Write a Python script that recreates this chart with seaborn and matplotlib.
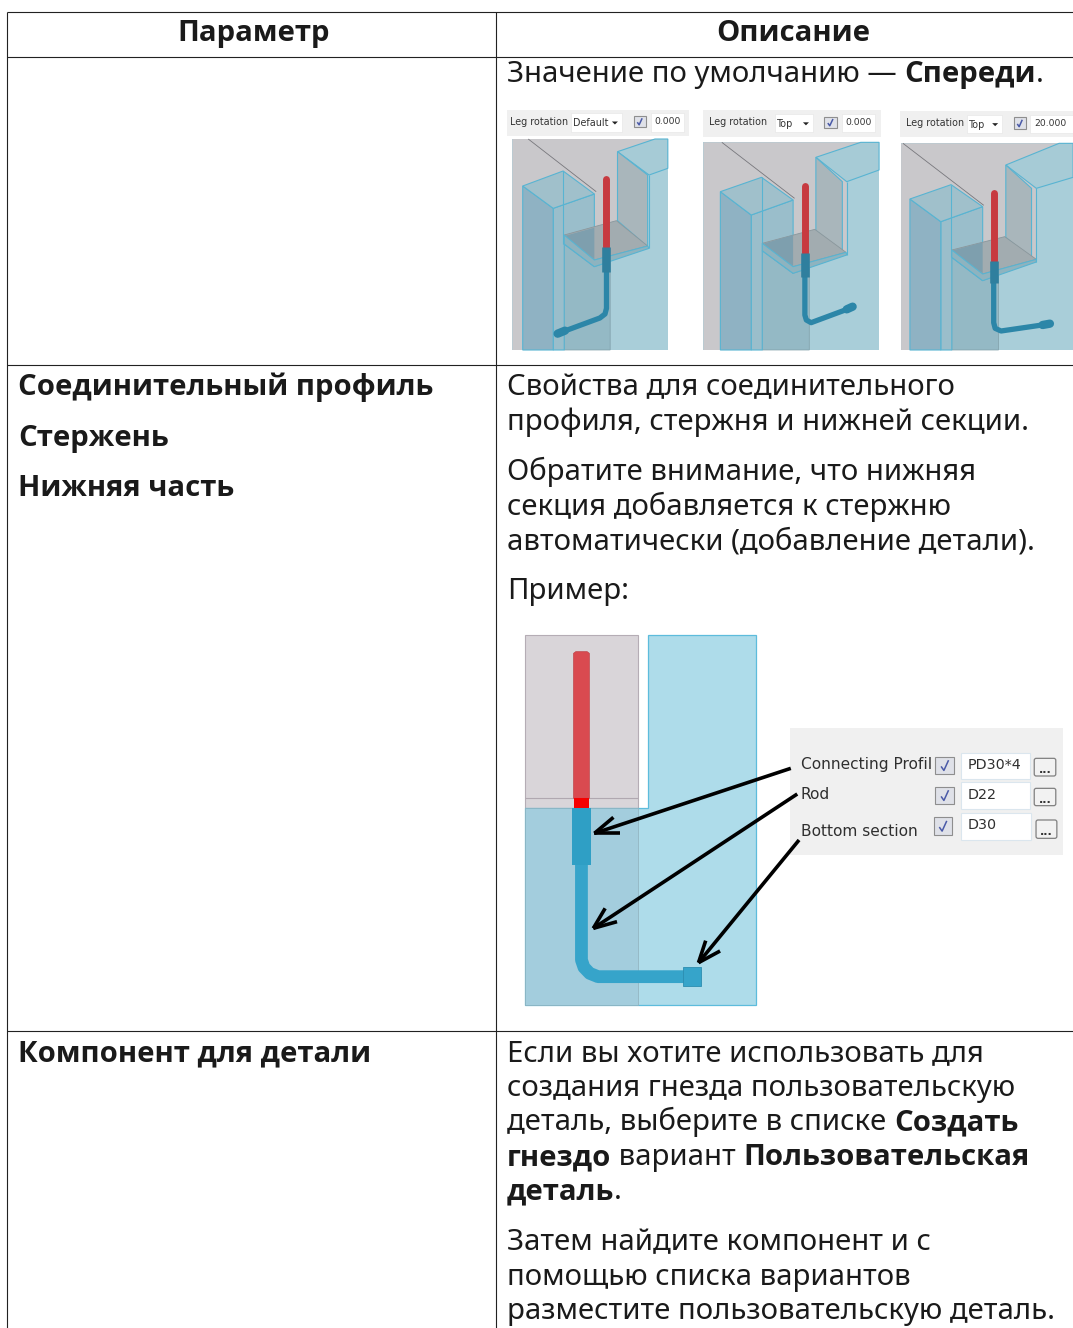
import matplotlib
matplotlib.use("Agg")
import matplotlib.pyplot as plt
from matplotlib.patches import Polygon, Rectangle, FancyBboxPatch
import seaborn as sns

# ---- table content -------------------------------------------------------
header_labels = ["Параметр", "Описание"]
left_labels = ["Соединительный профиль", "Стержень", "Нижняя часть", "Компонент для детали"]
left_baselines = [395, 446, 496, 1061]
right_lines = [
    [("Значение по умолчанию — ", False), ("Спереди", True), (".", False)],
    [("Свойства для соединительного", False)],
    [("профиля, стержня и нижней секции.", False)],
    [("Обратите внимание, что нижняя", False)],
    [("секция добавляется к стержню", False)],
    [("автоматически (добавление детали).", False)],
    [("Пример:", False)],
    [("Если вы хотите использовать для", False)],
    [("создания гнезда пользовательскую", False)],
    [("деталь, выберите в списке ", False), ("Создать", True)],
    [("гнездо", True), (" вариант ", False), ("Пользовательская", True)],
    [("деталь", True), (".", False)],
    [("Затем найдите компонент и с", False)],
    [("помощью списка вариантов", False)],
    [("разместите пользовательскую деталь.", False)],
]
right_baselines = [82, 395, 430, 480, 515, 550, 599, 1061, 1096, 1130, 1165, 1199, 1250, 1285, 1319]

panel_toolbar = ["Default", "Top", "Top"]
panel_values = ["0.000", "0.000", "20.000"]
form_labels = ["Connecting Profil", "Rod", "Bottom section"]
form_values = ["PD30*4", "D22", "D30"]

FS = 21.1
BOLD_FAMILY = "Open Sans"
sns.set_theme(style="white")
plt.rcParams["font.family"] = ["Noto Sans", "DejaVu Sans"]

fig = plt.figure(figsize=(10.73, 13.28), dpi=100, facecolor="white")
ax = fig.add_axes([0, 0, 1, 1])
ax.set_xlim(0, 1073)
ax.set_ylim(1328, 0)
ax.axis("off")
ax.set_autoscale_on(False)
rend = fig.canvas.get_renderer()


def polyline(pts, color, lw, z=3, cap="butt", alpha=1.0):
    xs = [p[0] for p in pts]
    ys = [p[1] for p in pts]
    sns.lineplot(x=xs, y=ys, sort=False, estimator=None, color=color, lw=lw, ax=ax,
                 legend=False, zorder=z, solid_capstyle=cap, solid_joinstyle="round", alpha=alpha)


def style(bold):
    if bold:
        return dict(fontsize=FS, fontweight="bold", family=BOLD_FAMILY)
    return dict(fontsize=FS, fontweight="normal")


def runs(x, base, parts, color="#1a1a1a"):
    for text, bold in parts:
        st = style(bold)
        ax.text(x, base, text, color=color, va="baseline", ha="left", zorder=10, **st)
        a = ax.text(0, 0, text + ".", **st)
        b = ax.text(0, 0, ".", **st)
        x += a.get_window_extent(rend).width - b.get_window_extent(rend).width
        a.remove()
        b.remove()


# ---- table rules ---------------------------------------------------------
for yy in [11.5, 56.5, 364.5, 1030.5]:
    polyline([(7, yy + .5), (1073, yy + .5)], "#222222", 0.8)
for xx in [7, 496]:
    polyline([(xx, 11.5), (xx, 1328)], "#222222", 0.8)

ax.text(254, 41, header_labels[0], ha="center", va="baseline", color="#1a1a1a", **style(True))
ax.text(793, 41, header_labels[1], ha="center", va="baseline", color="#1a1a1a", **style(True))
for s, b in zip(left_labels, left_baselines):
    runs(18.5, b, [(s, True)])
for parts, b in zip(right_lines, right_baselines):
    runs(507, b, parts)


# ---- three rotation panels ----------------------------------------------
def Z1(pts):
    return [(497 + x / 2.722, 100 + y / 3) for x, y in pts]


def poly(pts, fc, ec="none", lw=0.0, z=2, alpha=1.0):
    ax.add_patch(Polygon(pts, closed=True, fc=fc, ec=ec, lw=lw, zorder=z, alpha=alpha))


def checkbox(x0, y0, x1, y1, z=3):
    ax.add_patch(Rectangle((x0, y0), x1 - x0, y1 - y0, fc="#dfe1e8", ec="#8e8e8e", lw=0.8, zorder=z))
    w, h = x1 - x0, y1 - y0
    polyline([(x0 + .3 * w, y0 + .55 * h), (x0 + .45 * w, y0 + .78 * h), (x0 + .7 * w, y0 + .2 * h)], "#4a5aa8", 1.1, z + 1)


def panel(p, label, val):
    EDGE = "#58b4d2"
    T = p["tb"]
    (tx0, ty0), (tx1, ty1) = Z1([T[0], T[1]])
    ax.add_patch(Rectangle((tx0, ty0), tx1 - tx0, ty1 - ty0, fc="#f0f0f0", ec="none", zorder=2))
    (dx0, dy0), (dx1, dy1) = Z1(p["dd"])
    ax.add_patch(Rectangle((dx0, dy0), dx1 - dx0, dy1 - dy0, fc="white", ec="#e8e8e8", lw=0.5, zorder=3))
    (fx0, fy0), (fx1, fy1) = Z1(p["fld"])
    ax.add_patch(Rectangle((fx0, fy0), min(fx1, 1073) - fx0, fy1 - fy0, fc="white", ec="#e8e8e8", lw=0.5, zorder=3))
    (cx0, cy0), (cx1, cy1) = Z1(p["chk"])
    checkbox(cx0, cy0, cx1, cy1)
    (lx, ly), = Z1([p["lbl"]])
    ax.text(lx, ly, "Leg rotation", fontsize=6.9, color="#333333", va="center", family="DejaVu Sans", zorder=4)
    ax.text(dx0 + 2, (dy0 + dy1) / 2 + 1, label, fontsize=6.9, color="#333333", va="center", family="DejaVu Sans", zorder=4)
    poly([(dx1 - 10, (dy0 + dy1) / 2 - 1), (dx1 - 4, (dy0 + dy1) / 2 - 1), (dx1 - 7, (dy0 + dy1) / 2 + 2)], "#222222", z=4)
    ax.text(fx0 + 4, (fy0 + fy1) / 2 - 1, val, fontsize=6.6, color="#333333", va="center", family="DejaVu Sans", zorder=4)

    x0, y0, x1, y1 = p["img"]
    poly(Z1([(x0, y0), (x1, y0), (x1, y1), (x0, y1)]), "#a9ced9")
    poly(Z1(p["gray"]), "#c9c8cb", z=2.1)
    polyline(Z1(p["back"]), "#77777c", 0.6, 2.15)
    poly(Z1(p["rtop"]), "#a6cbd6", EDGE, 0.8, z=2.2)
    poly(Z1(p["rinner"]), "#a9b6bb", EDGE, 0.8, z=2.25)
    poly(Z1(p["under"]), "#94b9c5", "#7f9ea8", 0.5, z=2.3)
    poly(Z1(p["lside"]), "#9abecb", EDGE, 0.8, z=2.35)
    poly(Z1(p["lfront"]), "#8fb2c3", EDGE, 0.8, z=2.36)
    poly(Z1(p["ltop"]), "#a0c0cb", EDGE, 0.8, z=2.37)
    polyline(Z1(p["blockback"]), EDGE, 0.8, 2.38)
    poly(Z1(p["floor"]), "#a2acb0", "#8a979c", 0.6, z=2.4)
    poly(Z1(p["floordark"]), "#7e9fae", z=2.42)
    poly(Z1(p["lip"]), "#8eb3bf", EDGE, 0.8, z=2.45)
    polyline(Z1(p["redge"]), EDGE, 0.8, 2.5)
    polyline(Z1(p["tube"]), "#2c86a8", 3.8, 5, cap="round")
    r = p["rod"]
    polyline(Z1([(r[0], r[1]), (r[0], r[2])]), "#c73a40", 5.0, 5.2, cap="round")
    polyline(Z1([(r[0], r[2]), (r[0], r[3])]), "#2f7f9e", 6.2, 5.3)
    polyline(Z1(p["foot"]), "#2c86a8", 6.0, 5.4, cap="round")


panels = [
    dict(tb=[(27, 30), (523, 108)], dd=[(202, 40), (340, 95)], fld=[(418, 40), (508, 95)], chk=[(372, 48), (405, 82)],
         lbl=(35, 65), img=(42, 117, 465, 750),
         gray=[(42, 117), (430, 117), (328, 155), (410, 225), (410, 440), (265, 500), (183, 432), (183, 750), (42, 750)],
         rtop=[(328, 155), (430, 117), (465, 117), (465, 205), (414, 225)],
         rinner=[(328, 155), (410, 225), (410, 440), (328, 362)],
         floor=[(183, 405), (325, 362), (410, 438), (265, 480)],
         floordark=[(183, 408), (265, 383), (265, 478)],
         lip=[(183, 405), (265, 480), (410, 438), (414, 445), (265, 500), (183, 432)],
         lfront=[(70, 258), (153, 325), (153, 750), (70, 750)],
         ltop=[(70, 258), (180, 213), (265, 282), (153, 325)],
         lside=[(153, 325), (265, 282), (265, 500), (183, 432), (183, 750), (153, 750)],
         under=[(183, 432), (265, 500), (308, 485), (308, 750), (183, 750)],
         blockback=[(180, 213), (180, 432)],
         redge=[(414, 225), (414, 445)],
         back=[(85, 117), (270, 275)],
         rod=(298, 238, 440, 515),
         tube=[(298, 515), (298, 625), (294, 642), (280, 654), (172, 698)],
         foot=[(165, 701), (185, 692)]),
    dict(tb=[(562, 30), (1044, 110)], dd=[(757, 43), (860, 97)], fld=[(938, 42), (1030, 97)], chk=[(890, 50), (925, 85)],
         lbl=(578, 67), img=(562, 127, 1040, 750),
         gray=[(562, 127), (990, 127), (868, 172), (952, 245), (952, 460), (806, 520), (722, 452), (722, 750), (562, 750)],
         rtop=[(868, 172), (990, 127), (1040, 127), (1040, 210), (952, 245)],
         rinner=[(868, 172), (940, 245), (940, 457), (868, 392)],
         floor=[(722, 430), (865, 388), (950, 457), (806, 500)],
         floordark=[(722, 432), (806, 405), (806, 498)],
         lip=[(722, 430), (806, 500), (950, 457), (952, 465), (806, 520), (722, 452)],
         lfront=[(608, 275), (692, 345), (692, 750), (608, 750)],
         ltop=[(608, 275), (720, 232), (806, 300), (692, 345)],
         lside=[(692, 345), (806, 300), (806, 520), (722, 452), (722, 750), (692, 750)],
         under=[(722, 452), (806, 520), (850, 505), (850, 750), (722, 750)],
         blockback=[(720, 232), (720, 452)],
         redge=[(952, 245), (952, 465)],
         back=[(612, 127), (810, 295)],
         rod=(838, 258, 460, 530),
         tube=[(838, 530), (838, 645), (842, 660), (855, 668), (960, 625)],
         foot=[(952, 628), (968, 620)]),
    dict(tb=[(1098, 33), (1568, 112)], dd=[(1280, 45), (1375, 100)], fld=[(1452, 45), (1568, 100)], chk=[(1406, 52), (1440, 88)],
         lbl=(1113, 70), img=(1100, 130, 1568, 750),
         gray=[(1100, 130), (1568, 130), (1385, 195), (1468, 265), (1468, 480), (1322, 542), (1238, 472), (1238, 750), (1100, 750)],
         rtop=[(1385, 195), (1530, 130), (1568, 130), (1568, 232), (1468, 265)],
         rinner=[(1385, 195), (1455, 265), (1455, 478), (1385, 412)],
         floor=[(1238, 450), (1382, 410), (1468, 478), (1322, 522)],
         floordark=[(1238, 452), (1322, 427), (1322, 520)],
         lip=[(1238, 450), (1322, 522), (1468, 478), (1468, 486), (1322, 542), (1238, 472)],
         lfront=[(1124, 297), (1208, 365), (1208, 750), (1124, 750)],
         ltop=[(1124, 297), (1236, 254), (1322, 320), (1208, 365)],
         lside=[(1208, 365), (1322, 320), (1322, 542), (1238, 472), (1238, 750), (1208, 750)],
         under=[(1238, 472), (1322, 542), (1365, 525), (1365, 750), (1238, 750)],
         blockback=[(1236, 254), (1236, 472)],
         redge=[(1468, 265), (1468, 486)],
         back=[(1105, 130), (1325, 316)],
         rod=(1352, 280, 482, 550),
         tube=[(1352, 550), (1352, 668), (1356, 685), (1372, 693), (1490, 674)],
         foot=[(1485, 675), (1505, 671)]),
]
for p, l, v in zip(panels, panel_toolbar, panel_values):
    panel(p, l, v)


# ---- connecting profile example -----------------------------------------
def Z2(pts):
    return [(510 + x / 2.785, 620 + y / 3) for x, y in pts]


poly(Z2([(42, 45), (356, 45), (356, 565), (42, 565)]), "#d9d5d9", "#b5adb5", 0.8)
polyline(Z2([(42, 533), (356, 533)]), "#b0a8b0", 0.8)
poly(Z2([(384, 45), (686, 45), (686, 1155), (42, 1155), (42, 565), (384, 565)]), "#aedcea", "#5dbcdc", 0.9)
poly(Z2([(42, 565), (356, 565), (356, 1155), (42, 1155)]), "#a3cddd", "#8fb0bb", 0.5, z=2.1)
poly(Z2([(177, 100), (183, 95), (215, 95), (221, 100), (221, 535), (177, 535)]), "#d94a50", "#c0454a", 0.5, z=4)
poly(Z2([(177, 535), (221, 535), (221, 565), (177, 565)]), "#f50000", z=4.2)
poly(Z2([(173, 565), (226, 565), (226, 735), (173, 735)]), "#2f9fc5", z=4.1)
polyline(Z2([(199, 735), (199, 1020), (206, 1042), (222, 1060), (245, 1070), (490, 1070)]), "#36a4ca", 9.2, 4)
poly(Z2([(483, 1042), (533, 1042), (533, 1098), (483, 1098)]), "#36a4ca", "#2c8db0", 0.6, z=4.2)

poly(Z2([(780, 325), (1540, 325), (1540, 705), (780, 705)]), "#f0f0f0", z=2.5)
form_y = [435, 523, 635]
form_chk = [[(1185, 410), (1237, 463)], [(1185, 500), (1237, 553)], [(1180, 592), (1232, 645)]]
form_fld = [[(1255, 398), (1447, 478)], [(1255, 487), (1447, 568)], [(1255, 578), (1450, 660)]]
form_btn = [[(1460, 415), (1520, 468)], [(1460, 505), (1520, 557)], [(1465, 600), (1523, 655)]]
for lbl, val, fy, c, f, b in zip(form_labels, form_values, form_y, form_chk, form_fld, form_btn):
    (lx, ly), = Z2([(810, fy)])
    ax.text(lx, ly, lbl, fontsize=11.1, color="#2f2f2f", va="center", family="DejaVu Sans", zorder=4)
    (a0, a1), (a2, a3) = Z2(f)
    ax.add_patch(Rectangle((a0, a1), a2 - a0, a3 - a1, fc="white", ec="#dbe6ee", lw=0.8, zorder=3))
    ax.text(a0 + 7, (a1 + a3) / 2 - 1, val, fontsize=10.3, color="#2f2f2f", va="center", family="DejaVu Sans", zorder=4)
    (a0, a1), (a2, a3) = Z2(c)
    checkbox(a0, a1, a2, a3)
    (a0, a1), (a2, a3) = Z2(b)
    ax.add_patch(FancyBboxPatch((a0 + 2, a1 + 2), a2 - a0 - 4, a3 - a1 - 4, boxstyle="round,pad=2",
                                fc="#f2f2f2", ec="#808080", lw=0.9, zorder=3))
    ax.text((a0 + a2) / 2, a3 - 6, "...", fontsize=8, fontweight="bold", color="#333333", ha="center", va="center",
            family="DejaVu Sans", zorder=4)

arrows = [
    [(782, 445), (235, 640)],
    [(800, 522), (232, 925)],
    [(805, 660), (525, 1028)],
]
heads = [
    [(288, 592), (305, 640)],
    [(265, 865), (298, 905)],
    [(545, 962), (585, 993)],
]
for a, h in zip(arrows, heads):
    polyline(Z2(a), "black", 2.6, 6)
    for q in h:
        polyline(Z2([a[1], q]), "black", 2.6, 6)

fig.savefig("out.png", dpi=100, facecolor="white")
